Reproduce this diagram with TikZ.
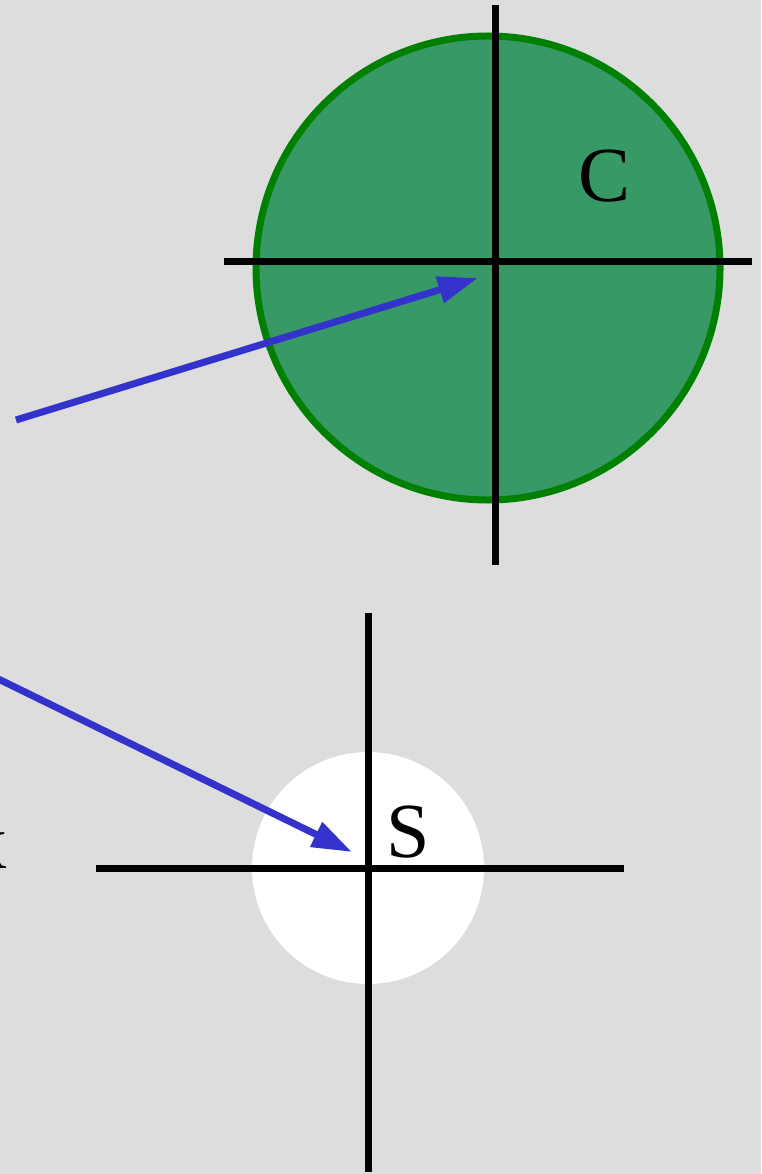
\documentclass[tikz,border=0pt]{standalone}
\usepackage{fontspec}
\setmainfont{Liberation Serif}
\usetikzlibrary{arrows.meta}
\definecolor{bg}{HTML}{DDDDDD}
\definecolor{cfill}{HTML}{379966}
\definecolor{cedge}{HTML}{008000}
\definecolor{arrowblue}{HTML}{3333CC}
\tikzset{
  axis/.style={draw=black,line width=7pt},
  bluearrow/.style={draw=arrowblue,line width=7pt,-{Triangle[length=40pt,width=26pt,fill=arrowblue]}},
  label/.style={font=\fontsize{78}{90}\selectfont,inner sep=0pt,anchor=base}
}
\begin{document}
\begin{tikzpicture}[x=1pt,y=-1pt]
\useasboundingbox (0,0) rectangle (761,1174);
\clip (0,0) rectangle (761,1174);
\fill[bg] (0,0) rectangle (761,1174);
% top circle
\node[circle,draw=cedge,fill=cfill,line width=7pt,minimum size=464pt,inner sep=0pt] (C) at (488,268) {};
\draw[axis] (495,5) -- (495,565);
\draw[axis] (224,261) -- (752,261);
\node[label] (Clab) at (605,202) {C};
% bottom circle
\node[circle,fill=white,minimum size=232pt,inner sep=0pt] (Sc) at (368,868) {};
\draw[axis] (368,613) -- (368,1172);
\draw[axis] (96,868) -- (624,868);
\node[label] (Slab) at (408,857) {S};
\node[label,anchor=base east] (xlab) at (8,868) {x};
% arrows
\coordinate (a1s) at (16,420);
\coordinate (a1e) at (478,278);
\coordinate (a2s) at (-20,670);
\coordinate (a2e) at (352,852);
\draw[bluearrow] (a1s) -- (a1e);
\draw[bluearrow] (a2s) -- (a2e);
\end{tikzpicture}
\end{document}
